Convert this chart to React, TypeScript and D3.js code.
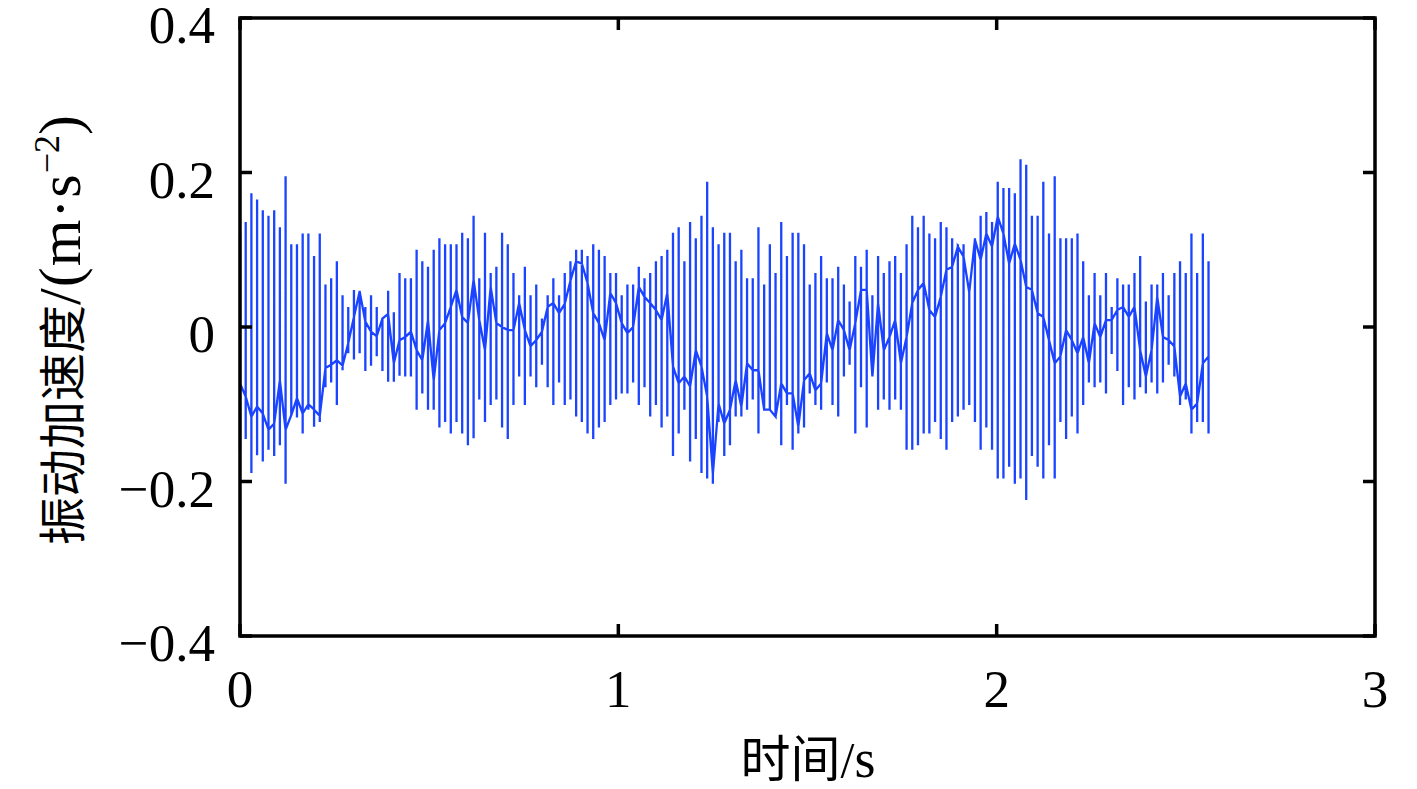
import React from "react";
import * as d3 from "d3";

// Sampling grid: 171 columns over 0 .. 2.56 s
const DURATION = 2.56;

// upper peak of each oscillation column (m·s^-2)
const upperPeak = [
  0.121, 0.136, 0.173, 0.165, 0.151, 0.144, 0.151, 0.129, 0.195, 0.107,
  0.107, 0.121, 0.121, 0.092, 0.121, 0.055, 0.063, 0.085, 0.041, 0.026,
  0.048, 0.047, 0.026, 0.041, 0.026, 0.012, 0.047, 0.019, 0.070, 0.063,
  0.063, 0.100, 0.085, 0.078, 0.100, 0.115, 0.107, 0.107, 0.107, 0.122,
  0.115, 0.144, 0.063, 0.122, 0.070, 0.078, 0.122, 0.107, 0.070, 0.041,
  0.078, 0.041, 0.055, 0.011, 0.041, 0.063, 0.041, 0.070, 0.085, 0.100,
  0.100, 0.092, 0.107, 0.100, 0.092, 0.070, 0.070, 0.041, 0.055, 0.055,
  0.078, 0.063, 0.070, 0.085, 0.092, 0.100, 0.122, 0.129, 0.085, 0.136,
  0.115, 0.144, 0.188, 0.129, 0.107, 0.122, 0.122, 0.085, 0.100, 0.063,
  0.063, 0.129, 0.055, 0.107, 0.070, 0.136, 0.092, 0.122, 0.122, 0.107,
  0.055, 0.070, 0.092, 0.063, 0.063, 0.078, 0.055, 0.033, 0.092, 0.078,
  0.100, 0.041, 0.092, 0.070, 0.085, 0.092, 0.070, 0.107, 0.144, 0.129,
  0.144, 0.121, 0.115, 0.136, 0.129, 0.115, 0.107, 0.107, 0.055, 0.115,
  0.144, 0.149, 0.136, 0.188, 0.180, 0.180, 0.173, 0.217, 0.210, 0.144,
  0.144, 0.188, 0.121, 0.195, 0.115, 0.115, 0.115, 0.121, 0.085, 0.041,
  0.070, 0.041, 0.070, 0.026, 0.063, 0.055, 0.055, 0.070, 0.092, 0.033,
  0.055, 0.055, 0.070, 0.041, 0.070, 0.085, 0.070, 0.121, 0.070, 0.121,
  0.085,
];

// lower peak of each oscillation column (m·s^-2)
const lowerPeak = [
  -0.159, -0.145, -0.189, -0.166, -0.174, -0.159, -0.167, -0.153, -0.203, -0.115,
  -0.117, -0.138, -0.107, -0.129, -0.123, -0.078, -0.072, -0.101, -0.056, -0.034,
  -0.042, -0.034, -0.057, -0.050, -0.038, -0.057, -0.071, -0.071, -0.063, -0.064,
  -0.064, -0.107, -0.086, -0.107, -0.107, -0.130, -0.123, -0.138, -0.123, -0.138,
  -0.153, -0.144, -0.094, -0.123, -0.101, -0.094, -0.130, -0.145, -0.101, -0.064,
  -0.101, -0.064, -0.078, -0.049, -0.078, -0.101, -0.072, -0.101, -0.094, -0.116,
  -0.123, -0.138, -0.145, -0.130, -0.123, -0.101, -0.094, -0.086, -0.086, -0.072,
  -0.101, -0.078, -0.116, -0.101, -0.130, -0.116, -0.167, -0.138, -0.107, -0.174,
  -0.145, -0.189, -0.196, -0.203, -0.123, -0.167, -0.153, -0.116, -0.116, -0.107,
  -0.094, -0.138, -0.107, -0.107, -0.116, -0.153, -0.101, -0.159, -0.138, -0.130,
  -0.086, -0.101, -0.107, -0.072, -0.101, -0.116, -0.064, -0.049, -0.138, -0.078,
  -0.130, -0.064, -0.107, -0.094, -0.107, -0.094, -0.107, -0.159, -0.159, -0.153,
  -0.138, -0.138, -0.123, -0.145, -0.159, -0.123, -0.116, -0.107, -0.101, -0.123,
  -0.159, -0.130, -0.159, -0.196, -0.196, -0.181, -0.203, -0.196, -0.224, -0.167,
  -0.181, -0.196, -0.153, -0.196, -0.123, -0.145, -0.116, -0.138, -0.101, -0.072,
  -0.078, -0.072, -0.086, -0.035, -0.057, -0.101, -0.078, -0.094, -0.078, -0.086,
  -0.072, -0.086, -0.072, -0.049, -0.064, -0.101, -0.094, -0.138, -0.123, -0.123,
  -0.138,
];

// slow (mid-level) component connecting the columns (m·s^-2)
const midLevel = [
  -0.073, -0.090, -0.116, -0.103, -0.112, -0.133, -0.125, -0.069, -0.133, -0.114,
  -0.092, -0.112, -0.100, -0.107, -0.115, -0.053, -0.049, -0.043, -0.050, -0.021,
  0.013, 0.046, 0.007, -0.006, -0.012, 0.011, 0.017, -0.047, -0.017, -0.013,
  -0.006, -0.030, -0.043, 0.009, -0.069, -0.004, 0.005, 0.026, 0.048, 0.013,
  0.005, 0.061, 0.009, -0.030, 0.052, 0.005, 0.000, -0.004, -0.004, 0.031,
  -0.004, -0.025, -0.017, -0.006, 0.026, 0.031, 0.018, 0.030, 0.060, 0.085,
  0.082, 0.057, 0.018, 0.005, -0.017, 0.044, 0.031, 0.005, -0.008, 0.000,
  0.052, 0.039, 0.031, 0.022, 0.009, 0.044, -0.051, -0.073, -0.064, -0.077,
  -0.030, -0.051, -0.090, -0.190, -0.099, -0.125, -0.107, -0.069, -0.103, -0.047,
  -0.056, -0.056, -0.107, -0.107, -0.116, -0.073, -0.086, -0.086, -0.129, -0.069,
  -0.060, -0.082, -0.073, -0.008, -0.030, 0.009, -0.004, -0.030, 0.005, 0.048,
  0.048, -0.064, 0.031, -0.030, -0.013, 0.009, -0.047, -0.013, 0.031, 0.048,
  0.057, 0.022, 0.013, 0.039, 0.074, 0.078, 0.104, 0.091, 0.045, 0.113,
  0.087, 0.121, 0.104, 0.143, 0.121, 0.082, 0.108, 0.087, 0.052, 0.048,
  0.018, 0.013, -0.017, -0.047, -0.038, -0.004, -0.017, -0.034, -0.013, -0.047,
  0.005, -0.013, 0.009, 0.009, 0.022, 0.026, 0.013, 0.026, -0.030, -0.064,
  -0.030, 0.039, -0.013, -0.017, -0.025, -0.090, -0.073, -0.107, -0.099, -0.047,
  -0.038,
];

const xTicks = [0, 1, 2, 3];
const yTicks = [-0.4, -0.2, 0, 0.2, 0.4];
const xTickLabels = ["0", "1", "2", "3"];
const yTickLabels = ["\u22120.4", "\u22120.2", "0", "0.2", "0.4"];

const W = 1417;
const H = 789;
const M = { left: 240, right: 1375, top: 18, bottom: 636 };

export default function App() {
  const x = d3.scaleLinear().domain([0, 3]).range([M.left, M.right]);
  const y = d3.scaleLinear().domain([-0.4, 0.4]).range([M.bottom, M.top]);

  const n = upperPeak.length;
  const dt = DURATION / (n - 1);
  const pts: [number, number][] = [];
  for (let i = 0; i < n; i++) {
    const t = i * dt;
    pts.push([t, midLevel[i]]);
    pts.push([t, upperPeak[i]]);
    pts.push([t, lowerPeak[i]]);
    pts.push([t, midLevel[i]]);
  }
  const line = d3
    .line<[number, number]>()
    .x((d) => x(d[0]))
    .y((d) => y(d[1]));

  const font = "'Liberation Serif', 'Times New Roman', 'Noto Sans CJK SC', serif";
  const tickLen = 12;
  const tickFont = 53;

  return (
    <svg
      width={W}
      height={H}
      viewBox={`0 0 ${W} ${H}`}
      style={{ position: "absolute", left: 0, top: 0, background: "#fff" }}
    >
      <path
        d={line(pts) || ""}
        fill="none"
        stroke="#1a44ff"
        strokeWidth={2.3}
      />
      {/* axes box */}
      <rect
        x={M.left}
        y={M.top}
        width={M.right - M.left}
        height={M.bottom - M.top}
        fill="none"
        stroke="#000"
        strokeWidth={3.5}
      />
      {yTicks.map((v, i) => (
        <g key={"y" + i}>
          <line x1={M.left} x2={M.left + tickLen} y1={y(v)} y2={y(v)} stroke="#000" strokeWidth={3.5} />
          <line x1={M.right} x2={M.right - tickLen} y1={y(v)} y2={y(v)} stroke="#000" strokeWidth={3.5} />
          <text
            x={215}
            y={y(v) + 25}
            textAnchor="end"
            fontFamily={font}
            fontSize={tickFont}
            fill="#000"
          >
            {yTickLabels[i]}
          </text>
        </g>
      ))}
      {xTicks.map((v, i) => (
        <g key={"x" + i}>
          <line x1={x(v)} x2={x(v)} y1={M.bottom} y2={M.bottom - tickLen} stroke="#000" strokeWidth={3.5} />
          <line x1={x(v)} x2={x(v)} y1={M.top} y2={M.top + tickLen} stroke="#000" strokeWidth={3.5} />
          <text
            x={x(v)}
            y={707}
            textAnchor="middle"
            fontFamily={font}
            fontSize={tickFont}
            fill="#000"
          >
            {xTickLabels[i]}
          </text>
        </g>
      ))}
      <text
        x={808}
        y={777}
        textAnchor="middle"
        fontFamily={font}
        fontSize={50}
        fill="#000"
      >
        时间/<tspan fontSize={54}>s</tspan>
      </text>
      <text
        transform={`translate(80, 330) rotate(-90)`}
        textAnchor="middle"
        fontFamily={font}
        fontSize={48}
        fill="#000"
      >
        振动加速度
        <tspan fontSize={60} letterSpacing={1}>/(m·s</tspan>
        <tspan dy={-21} fontSize={36}>
          {"\u22122"}
        </tspan>
        <tspan dy={21} fontSize={60}>)</tspan>
      </text>
    </svg>
  );
}
